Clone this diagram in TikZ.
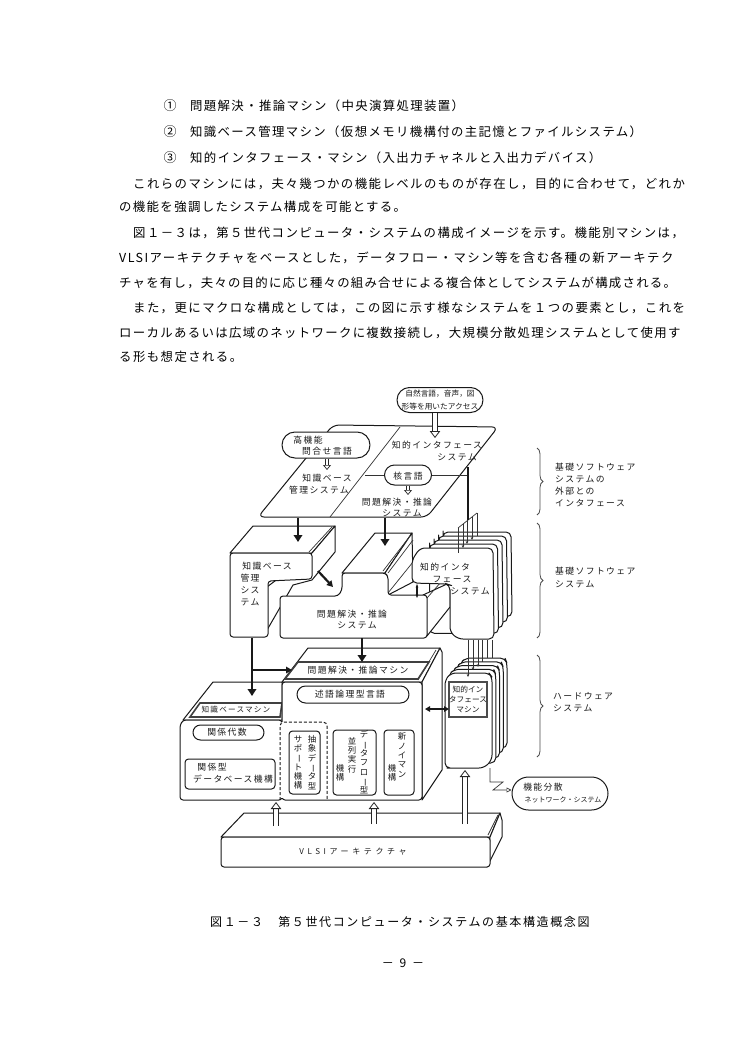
\documentclass[tikz,border=0pt]{standalone}
\usepackage{fontspec}
\usepackage{graphicx}
\usetikzlibrary{arrows.meta,shapes.misc,decorations.pathreplacing}
\setmainfont{Noto Sans CJK JP}
\newfontfamily\bodyjp{Noto Sans CJK JP}
\newfontfamily\labjp[LetterSpace=16]{Noto Sans CJK JP}
\newfontfamily\widejp[LetterSpace=45]{Noto Sans CJK JP}
\newcommand{\vb}{\raisebox{0pt}[6.5pt][1pt]{\rotatebox[origin=c]{-90}{ー}}}
% \bodyline{name}{position}{letter space}{text}
\newcommand{\bodyline}[4]{\node[anchor=west,inner sep=0pt] (#1) at #2 {\bodyjp\addfontfeature{LetterSpace=#3}\fontsize{12.4}{14}\selectfont #4};}
\tikzset{
  x=1pt,y=-1pt,
  ink/.style={draw=black!90,line width=1pt,line join=round},
  solid3/.style={ink,fill=white,rounded corners=3pt},
  sharp/.style={ink,fill=white},
  lab/.style={inner sep=0pt,font=\labjp\fontsize{8.8}{10}\selectfont,text=black!90},
  labs/.style={inner sep=0pt,font=\labjp\fontsize{7.6}{9}\selectfont,text=black!90},
  tight/.style={inner sep=0pt,font=\fontsize{7.7}{9}\selectfont,text=black!90},
  vlab/.style={inner sep=0pt,align=center,font=\fontsize{8.4}{9.3}\selectfont,text=black!90},
  pill/.style={ink,fill=white,rounded rectangle,inner sep=0pt},
  rbox/.style={ink,fill=white,rounded corners=3.5pt},
  thickarrow/.style={draw=black!90,line width=2.8pt,-{Triangle[length=7pt,width=8.5pt]}},
  midarrow/.style={draw=black!90,line width=1.7pt,-{Triangle[length=6pt,width=6.5pt]}},
  hollow/.style={draw=black!85,line width=0.8pt,double=white,double distance=3.6pt,-{Triangle[line width=0.8pt,fill=white,length=7pt,width=10.5pt]}},
  smallhollow/.style={hollow,double distance=2.6pt,-{Triangle[line width=0.7pt,fill=white,length=5pt,width=8pt]}},
  fine/.style={draw=black!80,line width=0.7pt},
  fineto/.style={fine,-{Stealth[length=3pt,width=2.6pt]}},
  bracex/.style={draw=black!70,line width=0.8pt,decorate,decoration={brace,amplitude=6pt}},
  winframe/.style={draw=black!75,line width=1.6pt,fill=white},
}
\begin{document}
\begin{tikzpicture}
\useasboundingbox (0,0) rectangle (750,1054);
\fill[white] (0,0) rectangle (750,1054);

% body text
\node[anchor=center,inner sep=0pt] (c1) at (170,106) {\fontsize{13}{14}\selectfont ①};
\node[anchor=center,inner sep=0pt] (c2) at (170,132) {\fontsize{13}{14}\selectfont ②};
\node[anchor=center,inner sep=0pt] (c3) at (170,158) {\fontsize{13}{14}\selectfont ③};
\bodyline{l1}{(190,106)}{11}{問題解決・推論マシン（中央演算処理装置）}
\bodyline{l2}{(190,132)}{11}{知識ベース管理マシン（仮想メモリ機構付の主記憶とファイルシステム）}
\bodyline{l3}{(190,158)}{11.2}{知的インタフェース・マシン（入出力チャネルと入出力デバイス）}
\bodyline{l4}{(133,184)}{11.7}{これらのマシンには，夫々幾つかの機能レベルのものが存在し，目的に合わせて，どれか}
\bodyline{l5}{(119,207)}{11}{の機能を強調したシステム構成を可能とする。}
\bodyline{l6}{(133,233)}{11.7}{図１－３は，第５世代コンピュータ・システムの構成イメージを示す。機能別マシンは，}
\bodyline{l7}{(119,258)}{12}{VLSIアーキテクチャをベースとした，データフロー・マシン等を含む各種の新アーキテク}
\bodyline{l8}{(119,283)}{10}{チャを有し，夫々の目的に応じ種々の組み合せによる複合体としてシステムが構成される。}
\bodyline{l9}{(133,308)}{11.8}{また，更にマクロな構成としては，この図に示す様なシステムを１つの要素とし，これを}
\bodyline{l10}{(119,333)}{10.8}{ローカルあるいは広域のネットワークに複数接続し，大規模分散処理システムとして使用す}
\bodyline{l11}{(119,357)}{11.5}{る形も想定される。}

% top plane
\draw[solid3,rounded corners=6pt] (258,517) -- (333,425) -- (498,427) -- (427,517) -- cycle;
\draw[fine] (400,427) -- (330,517);
\node[pill,minimum width=88pt,minimum height=26pt] (hl) at (326,445) {};
\node[lab] at (308,440) {高機能};
\node[lab] at (327,451) {問合せ言語};
\node[lab] at (327,478) {知識ベース};
\node[lab] at (319,490) {管理システム};
\node[lab] at (437,445) {知的インタフェース};
\node[lab] at (457,457) {システム};
\node[pill,minimum width=47pt,minimum height=20pt] (kern) at (408,475) {};
\node[lab] at (408,476) {核言語};
\coordinate (kl) at (365,475); \coordinate (kr) at (468,475);
\draw[fine] (kl) -- (kern.west);
\draw[fine] (kern.east) -- (kr);
\node[lab] at (397,502) {問題解決・推論};
\node[lab] at (402,513) {システム};
\coordinate (hlt) at (327,470);
\draw[smallhollow] (hl.south -| hlt) -- (hlt);
\coordinate (kt) at (408,495);
\draw[smallhollow] (kern.south) -- (kt);

% access pill
\node[pill,minimum width=86pt,minimum height=25pt] (acc) at (440,400) {};
\node[tight] at (440,394) {自然言語，音声，図};
\node[tight] at (440,407) {形等を用いたアクセス};
\coordinate (acct) at (435,438);
\draw[hollow] (acc.south -| acct) -- (acct);

% interface stack (back layers)
\foreach \i in {4,3,2,1}{
  \draw[solid3,rounded corners=5pt] ({455+4.5*\i},{639-5.6*\i}) -- ({425+4.5*\i},{639-5.6*\i}) -- ({425+4.5*\i},{552-4*\i}) -- ({420+4.5*\i+5},{548-4*\i}) -- ({493+4.5*\i},{548-4*\i}) -- ({494+4.5*\i},{639-5.6*\i}) -- cycle;
}

% KB software block
\draw[sharp] (253,526) -- (335,526) -- (312,553) -- (230,553) -- cycle;
\draw[sharp] (335,526) -- (335,552) -- (312,580) -- (293,585) -- (263,637) -- (263,590) -- (312,553) -- cycle;
\draw[fine] (309,552) -- (332,527);
\draw[solid3] (230,553) -- (312,553) -- (312,579) -- (268,581) -- (268,637) -- (230,637) -- cycle;
\node[lab] at (267,566) {知識ベース};
\node[lab] at (250,578) {管理};
\node[lab] at (250,590) {シス};
\node[lab] at (250,602) {テム};

% problem-solving software block
\draw[sharp] (342,573) -- (375,533) -- (412,533) -- (385,573) -- cycle;
\draw[sharp] (412,533) -- (413,582) -- (388,595) -- (385,573) -- cycle;
\draw[fine] (383,571) -- (410,536);
\draw[fine] (388,573) -- (413,540);
\draw[fine] (388,593) -- (413,562);
\draw[sharp] (423,595) -- (447,584) -- (450,585) -- (450,607) -- (427,636) -- cycle;
\draw[fine] (427,598) -- (441,582);
\draw[solid3] (280,596) -- (338,596) -- (342,590) -- (342,573) -- (385,573) -- (388,576) -- (388,595) -- (427,595) -- (427,638) -- (280,638) -- cycle;
\node[lab] at (352,614) {問題解決・推論};
\node[lab] at (357,625) {システム};

% interface software front layer
\draw[solid3,rounded corners=5pt] (412,583) -- (412,560) -- (420,548) -- (493,548) -- (494,639) -- (458,639) -- (450,632) -- (450,585) -- (447,584) -- cycle;
\node[lab] at (445,567) {知的インタ};
\node[lab] at (452,579) {フェース};
\node[lab] at (470,591) {システム};
\coordinate (nt) at (417,584); \coordinate (nb) at (417,598);
\draw[draw=black!90,line width=1.1pt,{Stealth[length=3.5pt]}-{Stealth[length=3.5pt]}] (nt) -- (nb);

% tab with wires into software stack
\coordinate (t0) at (458,528); \coordinate (t4) at (477,513);
\draw[fine] (t0) -- (t4);
\draw[fine] (t0) -- ++(0,25);
\draw[fineto] (463,524) -- (463,548);
\draw[fineto] (467,520) -- (467,544);
\draw[fineto] (472,517) -- (472,540);
\draw[fine] (477,513) -- (477,536);

% connectors between planes and blocks
\coordinate (p1) at (298,518); \coordinate (p1e) at (298,542);
\draw[thickarrow] (p1) -- (p1e);
\coordinate (p2) at (385,518); \coordinate (p2e) at (385,546);
\draw[thickarrow] (p2) -- (p2e);
\coordinate (p3) at (468,467); \coordinate (p3e) at (468,520);
\draw[draw=black!90,line width=2.8pt] (p3) -- (p3e);
\coordinate (d1) at (318,571); \coordinate (d1e) at (333,587);
\draw[midarrow,line width=2.2pt] (d1) -- (d1e);

% knowledge base machine
\draw[sharp] (183,720) -- (213,682) -- (282,682) -- (282,720) -- cycle;
\draw[solid3] (180,725) -- (183,720) -- (282,720) -- (282,800) -- (180,800) -- cycle;
\draw[winframe] (190,717) -- (200,703) -- (282,703) -- (280,717) -- cycle;
\node[labs] at (236,710) {知識ベースマシン};

% problem-solving machine
\draw[sharp] (282,682) -- (308,648) -- (440,648) -- (422,682) -- cycle;
\draw[sharp] (440,648) -- (442,652) -- (442,770) -- (422,800) -- (422,682) -- cycle;
\draw[fine] (418,680) -- (436,650);
\draw[winframe] (285,679) -- (298,662) -- (429,662) -- (418,679) -- cycle;
\node[lab] at (358,670) {問題解決・推論マシン};
\draw[solid3] (282,682) -- (422,682) -- (422,800) -- (282,800) -- cycle;
\draw[draw=white,line width=1.4pt] (282,722) -- (282,798);
\node[pill,minimum width=112pt,minimum height=17pt] (pred) at (353,694.5) {};
\node[lab] at (350,694.5) {述語論理型言語};
\node[pill,minimum width=71pt,minimum height=15pt] (rel) at (228.5,732.5) {};
\node[lab] at (227,732.5) {関係代数};
\draw[rbox] (185,759) rectangle (275,789);
\node[lab] at (212,767) {関係型};
\node[lab] at (233,779) {データベース機構};
\draw[ink,densely dashed,rounded corners=4pt] (280,800) -- (280,722) -- (327,722) -- (327,800);
\draw[rbox] (289,731) rectangle (320,794);
\node[vlab] at (312,762.5) {抽\\象\\デ\\\vb\\タ\\型};
\node[vlab] at (298,762.5) {サ\\ポ\\\vb\\ト\\機\\構};
\draw[rbox] (333,730) rectangle (376,795);
\node[vlab] at (364,762.5) {デ\\\vb\\タ\\フ\\ロ\\\vb\\型};
\node[vlab] at (352,755) {並\\列\\実\\行};
\node[vlab] at (340,773) {機\\構};
\draw[rbox] (384,730) rectangle (414,795);
\node[vlab] at (402,755) {新\\ノ\\イ\\マ\\ン};
\node[vlab] at (392,773) {機\\構};

% connectors onto machines
\coordinate (k1) at (252,638); \coordinate (k1e) at (252,696); \coordinate (kb) at (252,670); \coordinate (kbe) at (292,670);
\draw[thickarrow,line width=2.2pt] (k1) -- (k1e);
\draw[midarrow] (kb) -- (kbe);
\coordinate (m1) at (362,638); \coordinate (m1e) at (362,662);
\draw[thickarrow] (m1) -- (m1e);

% hardware stack and wires
\foreach \i in {4,3,2,1}{
  \draw[solid3,rounded corners=5pt] ({445+3.75*\i},{768-5*\i}) -- ({445+3.75*\i},{678-3.75*\i}) -- ({451+3.75*\i},{673-3.75*\i}) -- ({490+3.75*\i},{673-3.75*\i}) -- ({492+3.75*\i},{678-3.75*\i}) -- ({492+3.75*\i},{768-5*\i}) -- cycle;
}
\draw[solid3,rounded corners=5pt] (445,768) -- (445,680) -- (451,673) -- (489,673) -- (492,677) -- (492,760) -- (484,768) -- (452,768) -- cycle;
\draw[draw=black!70,line width=1.5pt,fill=white] (449,682) rectangle (487,717);
\node[tight] at (468,690) {知的イン};
\node[tight] at (468,700) {タフェース};
\node[tight] at (468,710) {マシン};
\draw[fineto] (468,640) -- (468,677);
\draw[fineto] (473,640) -- (473,670);
\draw[fineto] (478,640) -- (478,667);
\draw[fine] (482,640) -- (482,662);
\draw[fine] (487,640) -- (487,658);
\draw[fine] (492,640) -- (492,658);
\coordinate (dl) at (425,709); \coordinate (dr) at (449,709);
\draw[draw=black!90,line width=1.6pt,{Triangle[length=5pt,width=5.5pt]}-{Triangle[length=5pt,width=5.5pt]}] (dl) -- (dr);

% VLSI
\draw[sharp] (221,837) -- (244,813) -- (500,813) -- (490,837) -- cycle;
\draw[sharp] (500,813) -- (502,820) -- (502,837) -- (487,867) -- (490,837) -- cycle;
\draw[fine] (488,835) -- (498,815);
\draw[solid3] (221,837) -- (490,837) -- (490,867) -- (221,867) -- cycle;
\node[inner sep=0pt,font=\widejp\fontsize{8}{10}\selectfont,text=black!90] (vlsi) at (353,852) {VLSIアーキテクチャ};
\coordinate (u1a) at (276,826); \coordinate (u1b) at (276,802);
\coordinate (u2a) at (374,824); \coordinate (u2b) at (374,802);
\coordinate (u3a) at (465,824); \coordinate (u3b) at (465,770);
\draw[hollow] (u1a) -- (u1b);
\draw[hollow] (u2a) -- (u2b);
\draw[hollow] (u3a) -- (u3b);

% network pill
\node[pill,minimum width=96pt,minimum height=33pt] (net) at (560,793.5) {};
\node[lab] at (543,787) {機能分散};
\node[inner sep=0pt,font=\fontsize{7}{8}\selectfont,text=black!90] at (563,800) {ネットワーク・システム};
\coordinate (z0) at (490,768); \coordinate (z1) at (490,782); \coordinate (z2) at (503,782); \coordinate (z3) at (493,790);
\draw[fine,-{Triangle[open,length=5pt,width=5pt]}] (z0) -- (z1) -- (z2) -- (z3) -- (net.west |- z3);

% braces
\coordinate (b1a) at (537,448); \coordinate (b1b) at (537,515);
\coordinate (b2a) at (537,523); \coordinate (b2b) at (537,638);
\coordinate (b3a) at (537,655); \coordinate (b3b) at (537,757);
\draw[bracex] (b1a) -- (b1b);
\draw[bracex] (b2a) -- (b2b);
\draw[bracex] (b3a) -- (b3b);
\node[lab,anchor=west] at (555,467) {基礎ソフトウェア};
\node[lab,anchor=west] at (555,479) {システムの};
\node[lab,anchor=west] at (555,491) {外部との};
\node[lab,anchor=west] at (555,503) {インタフェース};
\node[lab,anchor=west] at (555,571) {基礎ソフトウェア};
\node[lab,anchor=west] at (555,584) {システム};
\node[lab,anchor=west] at (553,696) {ハードウェア};
\node[lab,anchor=west] at (553,708) {システム};

% caption
\node[anchor=west,inner sep=0pt,font=\bodyjp\addfontfeature{LetterSpace=13.5}\fontsize{12}{14}\selectfont] (cap) at (210,922) {図１－３　第５世代コンピュータ・システムの基本構造概念図};
\node[inner sep=0pt,font=\bodyjp\addfontfeature{LetterSpace=25}\fontsize{12}{14}\selectfont] (pg) at (403,963) {－ 9 －};
\end{tikzpicture}
\end{document}
